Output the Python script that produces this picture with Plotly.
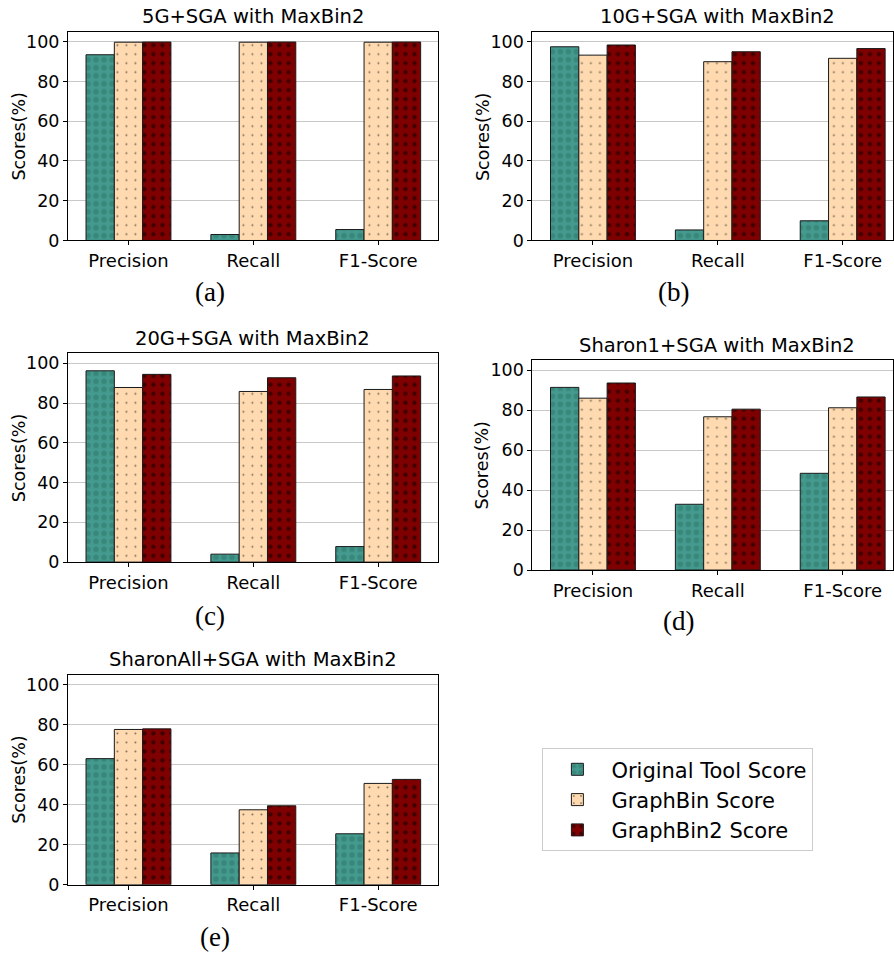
import plotly.graph_objects as go

W, H = 894, 963

categories = ["Precision", "Recall", "F1-Score"]
series_names = ["Original Tool Score", "GraphBin Score", "GraphBin2 Score"]

titles = ["5G+SGA with MaxBin2", "10G+SGA with MaxBin2", "20G+SGA with MaxBin2",
          "Sharon1+SGA with MaxBin2", "SharonAll+SGA with MaxBin2"]
captions = ["(a)", "(b)", "(c)", "(d)", "(e)"]

original_scores = [
    [93.4, 3.0, 5.5],
    [97.4, 5.3, 9.9],
    [96.2, 4.0, 7.8],
    [91.4, 32.9, 48.4],
    [63.1, 15.9, 25.5],
]
graphbin_scores = [
    [99.7, 99.7, 99.7],
    [93.2, 89.9, 91.6],
    [87.8, 85.8, 86.8],
    [86.0, 76.7, 81.2],
    [77.7, 37.5, 50.7],
]
graphbin2_scores = [
    [99.8, 99.8, 99.8],
    [98.3, 94.9, 96.5],
    [94.4, 92.7, 93.6],
    [93.6, 80.5, 86.6],
    [78.0, 39.5, 52.7],
]
y_ticks = [0, 20, 40, 60, 80, 100]

colors = ["#449a8e", "#ffdab0", "#7f0000"]
patterns = [
    dict(shape=".", fgcolor="#2c6e64", size=8, solidity=0.4, fillmode="overlay", fgopacity=0.45),
    dict(shape=".", fgcolor="#000000", size=9, solidity=0.04, fillmode="overlay"),
    dict(shape=".", fgcolor="#000000", size=9, solidity=0.18, fillmode="overlay"),
]

# panel pixel boxes in page coords: (left, right, top, bottom)
boxes = [
    (68, 438, 32, 243),
    (533, 894, 32, 243),
    (68, 438, 357, 568),
    (533, 894, 364, 576),
    (68, 438, 682, 894),
]
title_pos = [(253, 17), (718, 17), (253, 342), (718, 349), (253, 666)]
ylab_pos = [(19, 138), (483, 138), (19, 463), (483, 470), (19, 788)]
cap_pos = [(210, 295), (674, 295), (210, 622), (679, 628), (215, 947)]


def px(x):
    return x / W


def py(y):
    return 1 - y / H


FONT = "DejaVu Sans"
fig = go.Figure()
annotations = []
layout = {}
for i in range(5):
    l, r, t, b = boxes[i]
    xa = "xaxis" if i == 0 else f"xaxis{i+1}"
    ya = "yaxis" if i == 0 else f"yaxis{i+1}"
    xr = "x" if i == 0 else f"x{i+1}"
    yr = "y" if i == 0 else f"y{i+1}"
    vals = [original_scores[i], graphbin_scores[i], graphbin2_scores[i]]
    for s in range(3):
        fig.add_trace(go.Bar(
            x=categories, y=vals[s], name=series_names[s],
            marker=dict(color=colors[s], line=dict(color="#1a1a1a", width=1),
                        pattern=patterns[s]),
            xaxis=xr, yaxis=yr, showlegend=(i == 0), legendrank=s,
        ))
    xmax = -0.485 + (r - l) / 125.0
    layout[xa] = dict(
        domain=[px(l), min(1.0, px(r))], anchor=yr, range=[-0.485, xmax],
        showline=True, linecolor="black", linewidth=1, mirror=True,
        ticks="outside", ticklen=4, tickcolor="black",
        tickfont=dict(family=FONT, size=18, color="black"),
        showgrid=False, zeroline=False, fixedrange=True,
    )
    layout[ya] = dict(
        domain=[py(b), py(t)], anchor=xr, range=[0, 105],
        tickvals=y_ticks, showline=True, linecolor="black", linewidth=1, mirror=True,
        ticks="outside", ticklen=4, tickcolor="black",
        tickfont=dict(family=FONT, size=17.5, color="black"),
        showgrid=True, gridcolor="#c8c8c8", gridwidth=1, zeroline=False, fixedrange=True,
    )
    annotations.append(dict(text=titles[i], x=px(title_pos[i][0]), y=py(title_pos[i][1]),
                            xref="paper", yref="paper", showarrow=False,
                            xanchor="center", yanchor="middle",
                            font=dict(family=FONT, size=19.5, color="black")))
    annotations.append(dict(text="Scores(%)", x=px(ylab_pos[i][0]), y=py(ylab_pos[i][1]),
                            xref="paper", yref="paper", showarrow=False, textangle=-90,
                            xanchor="center", yanchor="middle",
                            font=dict(family=FONT, size=17.5, color="black")))
    annotations.append(dict(text=captions[i], x=px(cap_pos[i][0]), y=py(cap_pos[i][1]),
                            xref="paper", yref="paper", showarrow=False,
                            xanchor="center", yanchor="middle",
                            font=dict(family="Liberation Serif", size=27, color="black")))

fig.update_layout(
    width=W, height=H, margin=dict(l=0, r=0, t=0, b=0),
    paper_bgcolor="white", plot_bgcolor="white",
    barmode="group", bargap=0.32, bargroupgap=0,
    annotations=annotations, hovermode=False,
    legend=dict(x=px(543), y=py(756), xanchor="left", yanchor="top",
                bgcolor="white", bordercolor="#cccccc", borderwidth=1,
                font=dict(family=FONT, size=21, color="black"),
                itemwidth=58, traceorder="normal"),
    **layout,
)
fig.write_html(
    "out.html",
    config={"displayModeBar": False},
    post_script="document.body.style.margin='0';document.body.style.overflow='hidden';",
)
